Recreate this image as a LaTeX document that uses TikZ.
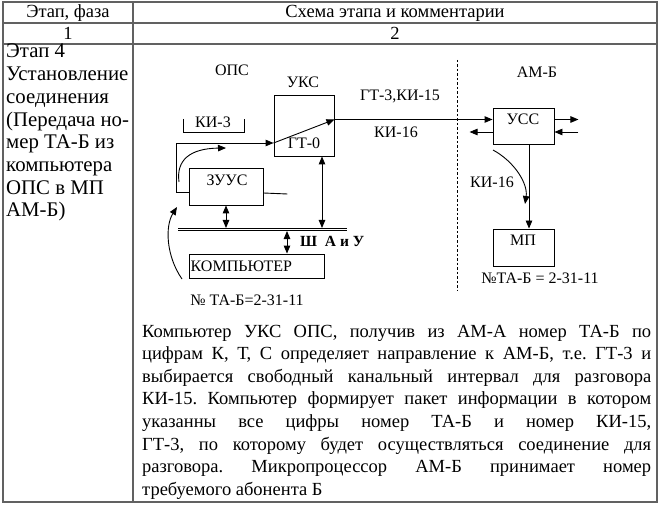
\documentclass[tikz,border=0pt]{standalone}
\usepackage{fontspec}
\setmainfont{Liberation Serif}
\usetikzlibrary{arrows.meta}
\newcommand{\jline}[1]{\hbox to 509pt{#1}}
\frenchspacing
\begin{document}
\frenchspacing
\begin{tikzpicture}[x=1pt,y=-1pt,
  tbl/.style={draw=black!62, line width=1.4pt},
  tblin/.style={draw=black!62, line width=1.1pt},
  bigtxt/.style={font=\fontsize{18.5}{22.6}\selectfont\frenchspacing, inner sep=0pt},
  lefttxt/.style={font=\fontsize{20.8}{22.7}\selectfont, inner sep=0pt},
  lbl/.style={font=\fontsize{16}{19}\selectfont, inner sep=0pt},
  blk/.style={draw, line width=0.9pt, inner sep=0pt},
  ln/.style={line width=0.9pt},
  arr/.style={ln, -{Triangle[length=8pt,width=6.5pt]}},
  darr/.style={ln, {Triangle[length=8pt,width=6.5pt]}-{Triangle[length=8pt,width=6.5pt]}},
  bus/.style={double, double distance=1.8pt, line width=0.9pt},
  sep/.style={line width=0.9pt, dash pattern=on 2.5pt off 2pt}]
\useasboundingbox (0,0) rectangle (661,505);
\fill[white] (0,0) rectangle (661,505);

% ---------- table ----------
\draw[tbl] (3,2) rectangle (657,502);
\draw[tblin] (3,23) -- (657,23);
\draw[tblin] (3,44) -- (657,44);
\draw[tblin] (133,2) -- (133,502);

\node[bigtxt, anchor=base] (h1) at (68,18) {Этап, фаза};
\node[bigtxt, anchor=base] (h2) at (395,18) {Схема этапа и комментарии};
\node[bigtxt, anchor=base] (n1) at (68,39.5) {1};
\node[bigtxt, anchor=base] (n2) at (395,39.5) {2};

% ---------- left column ----------
\foreach \t [count=\i from 0] in {{Этап 4},{Установление},{соединения},{(Передача но-},{мер ТА-Б из},{компьютера},{ОПС в МП},{АМ-Б)}}
  \node[lefttxt, anchor=base west] (c\i) at (6,{58+22.7*\i}) {\t};

% ---------- diagram blocks ----------
\node[blk, minimum width=60pt, minimum height=61pt] (uks) at (304,125.5) {};
\node[blk, minimum width=74pt, minimum height=37pt] (zuus) at (226,186.5) {};
\node[blk, minimum width=135pt, minimum height=24pt] (comp) at (256.5,266) {};
\node[blk, minimum width=61pt, minimum height=36pt] (uss) at (523.5,126) {};
\node[blk, minimum width=61pt, minimum height=37pt] (mp) at (523.5,247.5) {};

\node[lbl] (ops) at (232,70) {ОПС};
\node[lbl] (ukst) at (303,82) {УКС};
\node[lbl] (gt0) at (304,143) {ГТ-0};
\node[lbl] (zuust) at (227,180.5) {ЗУУС};
\node[lbl, anchor=west] (compt) at (190.5,266) {КОМПЬЮТЕР};
\node[lbl] (usst) at (523,119.5) {УСС};
\node[lbl] (mpt) at (523,240.5) {МП};
\node[lbl] (amb) at (537,72) {АМ-Б};
\node[lbl] (ki3) at (213,122) {КИ-3};
\node[lbl] (gt3) at (400,96) {ГТ-3,КИ-15};
\node[lbl] (ki16a) at (396,132) {КИ-16};
\node[lbl] (ki16b) at (492,182.5) {КИ-16};
\node[lbl, anchor=west, font=\fontsize{15.5}{19}\selectfont\bfseries] (shau) at (300,241) {Ш\ \ А и У};
\node[lbl] (nta1) at (247,300) {№ ТА-Б=2-31-11};
\node[lbl] (nta2) at (540,278) {№ТА-Б = 2-31-11};

% ---------- connectors ----------
\coordinate (busL) at (178,229.5);
\coordinate (busR) at (347,229.5);
\draw[bus] (busL) -- (busR);

\draw[ln] (183,119) -- (183,132) -- (244,132) -- (244,119);

\coordinate (gin) at ([yshift=-17.5pt]uks.west);
\coordinate (gout) at ([yshift=6pt]uks.east);
\draw[arr] ([yshift=-5.5pt]zuus.west) -- ++(-12,0) |- (gin);
\draw[arr] (gin) -- (gout);
\draw[arr] (gout) -- (uss.west |- gout);
\draw[ln] ([yshift=-6.5pt]zuus.east) -- ++(24,1);

\draw[darr] (zuus.south) -- (zuus.south |- 0,228);
\draw[darr] ([xshift=18pt]uks.south) -- ([xshift=18pt]uks.south |- 0,228);
\draw[darr] (comp.north -| 287,0) -- (287,231);

\draw[arr] (179,182) .. controls (176,160) and (190,148.5) .. (226,148);
\draw[arr] (182,279) .. controls (166,256) and (165,226) .. (177,207);

\draw[sep] (457,60) -- (457,290);

\draw[arr] ([yshift=6.5pt]uss.east) -- ++(24,0);
\coordinate (ussin) at ([yshift=-6pt,xshift=24pt]uss.east);
\draw[arr] (ussin) -- (uss.east |- ussin);
\draw[arr] (uss.west |- ussin) -- ++(-23,0);
\draw[arr] ([xshift=5.5pt]uss.south) -- ([xshift=5.5pt]mp.north);
\draw[arr] (493,150) .. controls (515,162) and (528,184) .. (525,204);

% ---------- comment text ----------
\node[bigtxt, anchor=base west] (t1) at (142,337) {\jline{Компьютер УКС ОПС, получив из АМ-А номер ТА-Б по}};
\node[bigtxt, anchor=base west] (t2) at (142,359.6) {\jline{цифрам К, Т, С определяет направление к АМ-Б, т.е. ГТ-3 и}};
\node[bigtxt, anchor=base west] (t3) at (142,382.2) {\jline{выбирается свободный канальный интервал для разговора}};
\node[bigtxt, anchor=base west] (t4) at (142,404.8) {\jline{КИ-15. Компьютер формирует пакет информации в котором}};
\node[bigtxt, anchor=base west] (t5) at (142,427.4) {\jline{указанны все цифры номер ТА-Б и номер КИ-15,}};
\node[bigtxt, anchor=base west] (t6) at (142,450) {\jline{ГТ-3, по которому будет осуществляться соединение для}};
\node[bigtxt, anchor=base west] (t7) at (142,472.6) {\jline{разговора. Микропроцессор АМ-Б принимает номер}};
\node[bigtxt, anchor=base west] (t8) at (142,495.2) {требуемого абонента Б};
\end{tikzpicture}
\end{document}
